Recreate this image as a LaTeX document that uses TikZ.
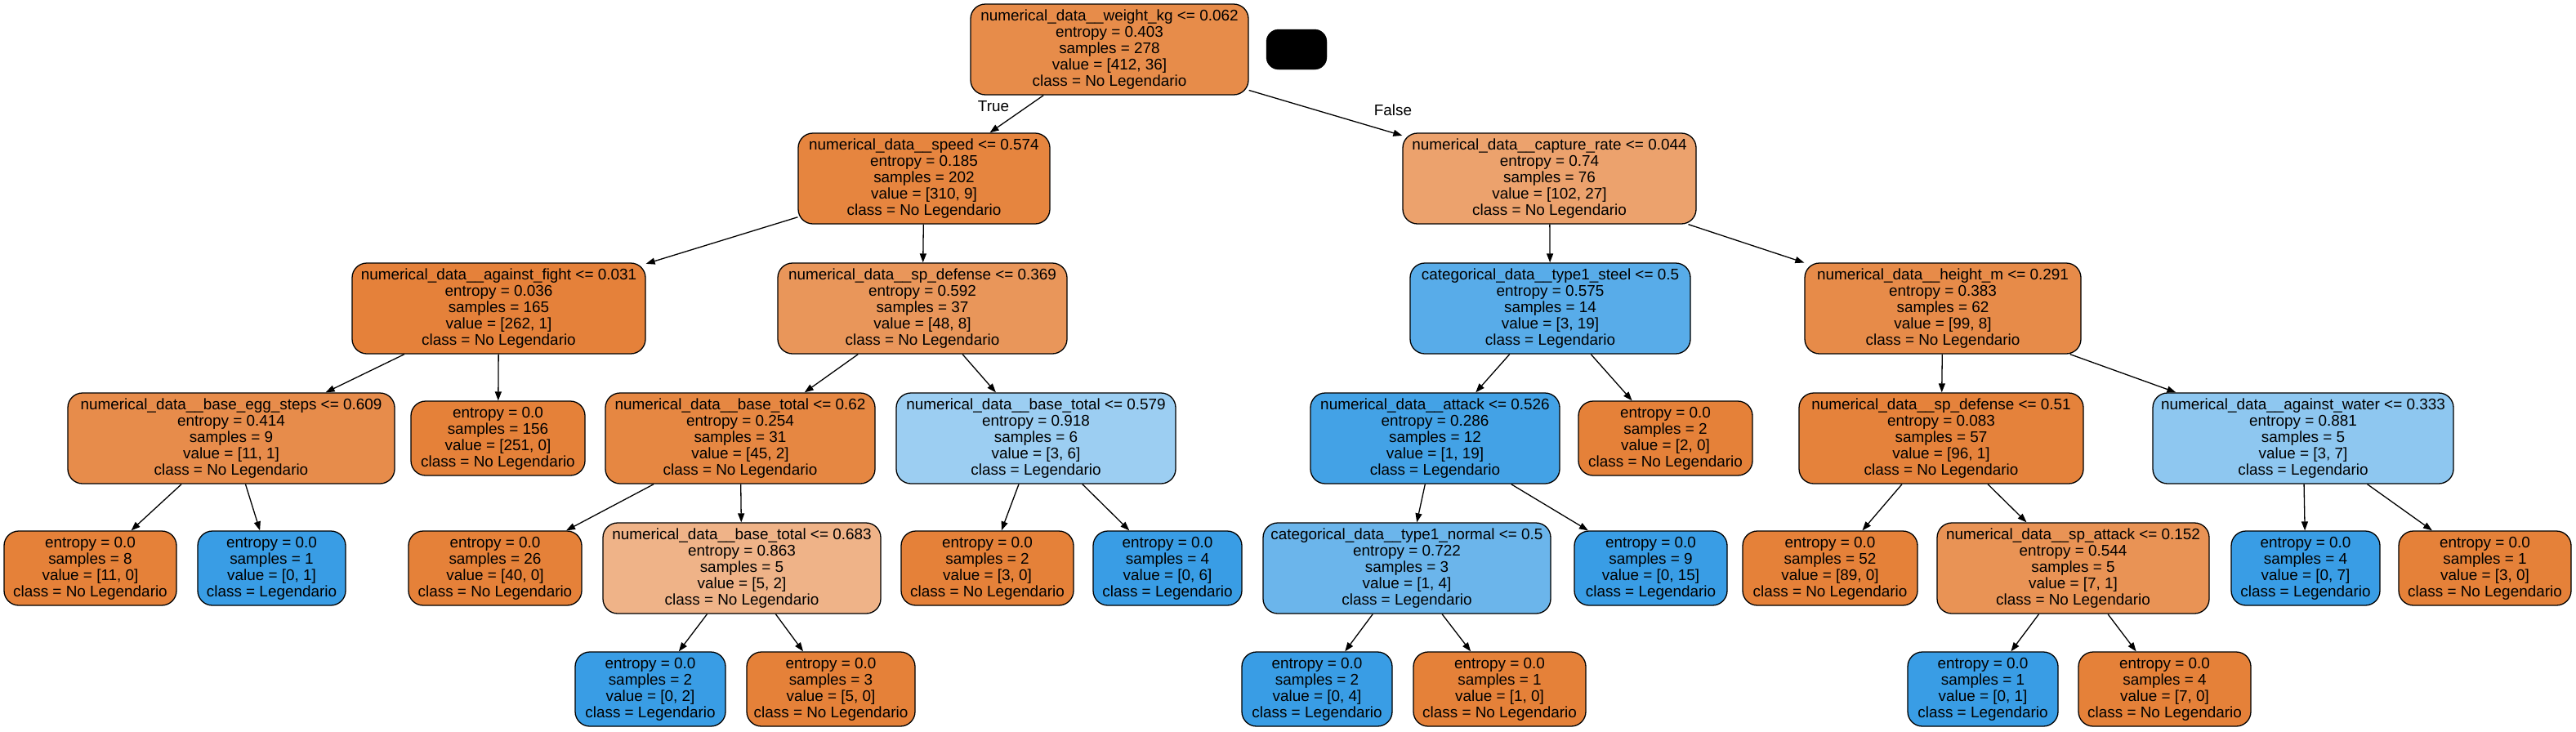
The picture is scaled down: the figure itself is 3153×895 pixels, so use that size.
\documentclass[tikz,border=0pt]{standalone}
\usepackage{fontspec}
\setmainfont{Liberation Sans}
\usetikzlibrary{arrows.meta}
\definecolor{tor}{RGB}{229,129,57}
\definecolor{tbl}{RGB}{57,157,229}
\begin{document}
\begin{tikzpicture}[x=1pt,y=-1pt,
  tn/.style={draw=black, line width=1.3pt, rounded corners=18pt, inner sep=0pt, align=center,
    font=\fontsize{18.9}{20}\selectfont},
  inn/.style={tn, minimum height=111pt},
  lf/.style={tn, minimum height=91pt},
  e/.style={-{Triangle[length=11pt,width=8pt]}, line width=1.3pt},
  lab/.style={font=\fontsize{18.9}{20}\selectfont}]
\fill[white] (0,0) rectangle (3153,895);
\useasboundingbox (0,0) rectangle (3153,895);
% level 0
\node[inn, fill=tor!91.3!white, minimum width=340pt] (n0) at (1358,60.5) {numerical\_data\_\_weight\_kg <= 0.062\\entropy = 0.403\\samples = 278\\value = [412, 36]\\class = No Legendario};
\node[draw=black, fill=black, rounded corners=15pt, minimum width=74pt, minimum height=49pt, inner sep=0pt] (blk) at (1587,60.5) {};
% level 1
\node[inn, fill=tor!97.1!white, minimum width=308pt] (n1) at (1131,218.5) {numerical\_data\_\_speed <= 0.574\\entropy = 0.185\\samples = 202\\value = [310, 9]\\class = No Legendario};
\node[inn, fill=tor!73.5!white, minimum width=359pt] (n2) at (1896.5,218.5) {numerical\_data\_\_capture\_rate <= 0.044\\entropy = 0.74\\samples = 76\\value = [102, 27]\\class = No Legendario};
% level 2
\node[inn, fill=tor!99.6!white, minimum width=359pt] (n3) at (610.5,377.5) {numerical\_data\_\_against\_fight <= 0.031\\entropy = 0.036\\samples = 165\\value = [262, 1]\\class = No Legendario};
\node[inn, fill=tor!83.3!white, minimum width=354pt] (n4) at (1129,377.5) {numerical\_data\_\_sp\_defense <= 0.369\\entropy = 0.592\\samples = 37\\value = [48, 8]\\class = No Legendario};
\node[inn, fill=tbl!84.2!white, minimum width=343pt] (n5) at (1897.5,377.5) {categorical\_data\_\_type1\_steel <= 0.5\\entropy = 0.575\\samples = 14\\value = [3, 19]\\class = Legendario};
\node[inn, fill=tor!91.9!white, minimum width=338pt] (n6) at (2378,377.5) {numerical\_data\_\_height\_m <= 0.291\\entropy = 0.383\\samples = 62\\value = [99, 8]\\class = No Legendario};
% level 3
\node[inn, fill=tor!90.9!white, minimum width=400pt] (n7) at (283,536.5) {numerical\_data\_\_base\_egg\_steps <= 0.609\\entropy = 0.414\\samples = 9\\value = [11, 1]\\class = No Legendario};
\node[lf, fill=tor, minimum width=213pt] (n8) at (609.5,536.5) {entropy = 0.0\\samples = 156\\value = [251, 0]\\class = No Legendario};
\node[inn, fill=tor!95.6!white, minimum width=330pt] (n9) at (906,536.5) {numerical\_data\_\_base\_total <= 0.62\\entropy = 0.254\\samples = 31\\value = [45, 2]\\class = No Legendario};
\node[inn, fill=tbl!50!white, minimum width=342pt] (n10) at (1268,536.5) {numerical\_data\_\_base\_total <= 0.579\\entropy = 0.918\\samples = 6\\value = [3, 6]\\class = Legendario};
\node[inn, fill=tbl!94.7!white, minimum width=305pt] (n11) at (1756.5,536.5) {numerical\_data\_\_attack <= 0.526\\entropy = 0.286\\samples = 12\\value = [1, 19]\\class = Legendario};
\node[lf, fill=tor, minimum width=213pt] (n12) at (2038.5,536.5) {entropy = 0.0\\samples = 2\\value = [2, 0]\\class = No Legendario};
\node[inn, fill=tor!99!white, minimum width=348pt] (n13) at (2376,536.5) {numerical\_data\_\_sp\_defense <= 0.51\\entropy = 0.083\\samples = 57\\value = [96, 1]\\class = No Legendario};
\node[inn, fill=tbl!57.1!white, minimum width=368pt] (n14) at (2819,536.5) {numerical\_data\_\_against\_water <= 0.333\\entropy = 0.881\\samples = 5\\value = [3, 7]\\class = Legendario};
% level 4
\node[lf, fill=tor, minimum width=211pt] (n15) at (110.5,695.5) {entropy = 0.0\\samples = 8\\value = [11, 0]\\class = No Legendario};
\node[lf, fill=tbl, minimum width=181pt] (n16) at (332.5,695.5) {entropy = 0.0\\samples = 1\\value = [0, 1]\\class = Legendario};
\node[lf, fill=tor, minimum width=212pt] (n17) at (606,695.5) {entropy = 0.0\\samples = 26\\value = [40, 0]\\class = No Legendario};
\node[inn, fill=tor!60!white, minimum width=340pt] (n18) at (908,695.5) {numerical\_data\_\_base\_total <= 0.683\\entropy = 0.863\\samples = 5\\value = [5, 2]\\class = No Legendario};
\node[lf, fill=tor, minimum width=211pt] (n19) at (1208.5,695.5) {entropy = 0.0\\samples = 2\\value = [3, 0]\\class = No Legendario};
\node[lf, fill=tbl, minimum width=182pt] (n20) at (1429,695.5) {entropy = 0.0\\samples = 4\\value = [0, 6]\\class = Legendario};
\node[inn, fill=tbl!75!white, minimum width=352pt] (n21) at (1722,695.5) {categorical\_data\_\_type1\_normal <= 0.5\\entropy = 0.722\\samples = 3\\value = [1, 4]\\class = Legendario};
\node[lf, fill=tbl, minimum width=187pt] (n22) at (2020.5,695.5) {entropy = 0.0\\samples = 9\\value = [0, 15]\\class = Legendario};
\node[lf, fill=tor, minimum width=214pt] (n23) at (2240,695.5) {entropy = 0.0\\samples = 52\\value = [89, 0]\\class = No Legendario};
\node[inn, fill=tor!85.7!white, minimum width=333pt] (n24) at (2537.5,695.5) {numerical\_data\_\_sp\_attack <= 0.152\\entropy = 0.544\\samples = 5\\value = [7, 1]\\class = No Legendario};
\node[lf, fill=tbl, minimum width=182pt] (n25) at (2822,695.5) {entropy = 0.0\\samples = 4\\value = [0, 7]\\class = Legendario};
\node[lf, fill=tor, minimum width=211pt] (n26) at (3041.5,695.5) {entropy = 0.0\\samples = 1\\value = [3, 0]\\class = No Legendario};
% level 5
\node[lf, fill=tbl, minimum width=184pt] (n27) at (796,843.5) {entropy = 0.0\\samples = 2\\value = [0, 2]\\class = Legendario};
\node[lf, fill=tor, minimum width=206pt] (n28) at (1017,843.5) {entropy = 0.0\\samples = 3\\value = [5, 0]\\class = No Legendario};
\node[lf, fill=tbl, minimum width=184pt] (n29) at (1612,843.5) {entropy = 0.0\\samples = 2\\value = [0, 4]\\class = Legendario};
\node[lf, fill=tor, minimum width=211pt] (n30) at (1835.5,843.5) {entropy = 0.0\\samples = 1\\value = [1, 0]\\class = No Legendario};
\node[lf, fill=tbl, minimum width=184pt] (n31) at (2427,843.5) {entropy = 0.0\\samples = 1\\value = [0, 1]\\class = Legendario};
\node[lf, fill=tor, minimum width=211pt] (n32) at (2649.5,843.5) {entropy = 0.0\\samples = 4\\value = [7, 0]\\class = No Legendario};
% edges
\draw[e] (n0) -- (n1);
\draw[e] (n0) -- (n2);
\draw[e] (n1) -- (n3);
\draw[e] (n1) -- (n4);
\draw[e] (n2) -- (n5);
\draw[e] (n2) -- (n6);
\draw[e] (n3) -- (n7);
\draw[e] (n3) -- (n8);
\draw[e] (n4) -- (n9);
\draw[e] (n4) -- (n10);
\draw[e] (n5) -- (n11);
\draw[e] (n5) -- (n12);
\draw[e] (n6) -- (n13);
\draw[e] (n6) -- (n14);
\draw[e] (n7) -- (n15);
\draw[e] (n7) -- (n16);
\draw[e] (n9) -- (n17);
\draw[e] (n9) -- (n18);
\draw[e] (n10) -- (n19);
\draw[e] (n10) -- (n20);
\draw[e] (n11) -- (n21);
\draw[e] (n11) -- (n22);
\draw[e] (n13) -- (n23);
\draw[e] (n13) -- (n24);
\draw[e] (n14) -- (n25);
\draw[e] (n14) -- (n26);
\draw[e] (n18) -- (n27);
\draw[e] (n18) -- (n28);
\draw[e] (n21) -- (n29);
\draw[e] (n21) -- (n30);
\draw[e] (n24) -- (n31);
\draw[e] (n24) -- (n32);
\node[lab] (tl) at (1216,130) {True};
\node[lab] (fl) at (1705,135) {False};
\end{tikzpicture}
\end{document}
